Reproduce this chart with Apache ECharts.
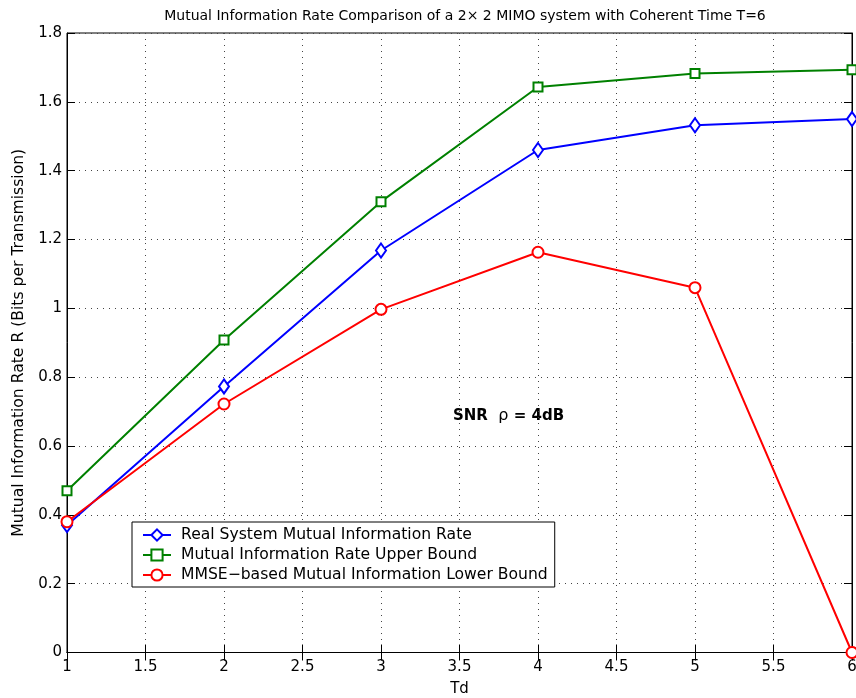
<!DOCTYPE html>
<html><head><meta charset="utf-8">
<script src="https://cdn.jsdelivr.net/npm/echarts@6/dist/echarts.min.js"></script>
<style>html,body{margin:0;padding:0;background:#fff}#c{width:856px;height:698px}</style>
</head><body><div id="c"></div>
<script>
var tdValues = [1, 2, 3, 4, 5, 6];
var realRate = [0.37, 0.773, 1.168, 1.46, 1.532, 1.55];
var upperBound = [0.47, 0.908, 1.31, 1.643, 1.682, 1.693];
var lowerBound = [0.38, 0.722, 0.997, 1.163, 1.06, 0.0];
var seriesNames = ['Real System Mutual Information Rate', 'Mutual Information Rate Upper Bound', 'MMSE\u2212based Mutual Information Lower Bound'];

function pairs(ys){ return tdValues.map(function(x,i){ return [x, ys[i]]; }); }
var font = 'DejaVu Sans, Liberation Sans, sans-serif';
var chart = echarts.init(document.getElementById('c'));
function mkSeries(name, data, color, symbol, size){
  return {name:name, type:'line', data:pairs(data), symbol:symbol, symbolSize:size,
    lineStyle:{color:color, width:2}, itemStyle:{color:color, borderColor:color, borderWidth:2},
    showAllSymbol:true, animation:false, z:3, xAxisIndex:0, yAxisIndex:0};
}
var dotted = {show:true, lineStyle:{type:[1,5], color:'#444', width:1}};
var tickStyle = {show:true, inside:true, length:8, lineStyle:{color:'#000'}};
chart.setOption({
  animation:false,
  backgroundColor:'#fff',
  title:{text:'Mutual Information Rate Comparison of a 2\u00d7 2 MIMO system with Coherent Time T=6',
    left:460, textAlign:'center', top:4, textStyle:{fontFamily:font, fontSize:14, fontWeight:'normal', color:'#000'}},
  grid:{left:67, right:4, top:33, bottom:45.5, outerBoundsMode:'none', containLabel:false,
    show:true, borderColor:'#000', borderWidth:1, backgroundColor:'transparent'},
  legend:{orient:'vertical', left:132, top:522, data:seriesNames, itemWidth:28, itemHeight:14, itemGap:4,
    padding:[5,7,4,10], borderColor:'#000', borderWidth:1, borderRadius:0, backgroundColor:'#fff',
    textStyle:{fontFamily:font, fontSize:15.6, color:'#000', padding:[0,0,0,5]}},
  xAxis:[{type:'value', min:1, max:6, interval:0.5, name:'Td', nameLocation:'middle', nameGap:29,
    nameTextStyle:{fontFamily:font, fontSize:15, color:'#000'},
    axisLine:{lineStyle:{color:'#000'}}, axisTick:tickStyle,
    axisLabel:{fontFamily:font, fontSize:15, color:'#000', margin:7},
    splitLine:dotted},
    {type:'value', position:'top', min:1, max:6, interval:0.5, axisLine:{show:true, lineStyle:{color:'#000'}},
     axisTick:tickStyle, axisLabel:{show:false}, splitLine:{show:false}}],
  yAxis:[{type:'value', min:0, max:1.8, interval:0.2, name:'Mutual Information Rate R (Bits per Transmission)',
    nameLocation:'middle', nameGap:38, nameTextStyle:{fontFamily:font, fontSize:15.6, color:'#000'},
    axisLine:{show:true, lineStyle:{color:'#000'}}, axisTick:tickStyle,
    axisLabel:{fontFamily:font, fontSize:15, color:'#000', margin:5, formatter:function(v){return String(Math.round(v*10)/10);}},
    splitLine:dotted},
    {type:'value', position:'right', min:0, max:1.8, interval:0.2, axisLine:{show:true, lineStyle:{color:'#000'}},
     axisTick:tickStyle, axisLabel:{show:false}, splitLine:{show:false}}],
  graphic:[{type:'text', x:453, y:408, style:{text:'{b|SNR  }{n|\u03c1}{b| = 4dB}', fill:'#000',
    rich:{b:{fontFamily:font, fontSize:15, fontWeight:'bold'}, n:{fontFamily:font, fontSize:16, fontWeight:'normal'}}}}],
  series:[
    mkSeries(seriesNames[0], realRate, '#0000ff', 'emptyDiamond', [10,14]),
    mkSeries(seriesNames[1], upperBound, '#008000', 'emptyRect', 9),
    mkSeries(seriesNames[2], lowerBound, '#ff0000', 'emptyCircle', 11)
  ]
});
</script></body></html>
